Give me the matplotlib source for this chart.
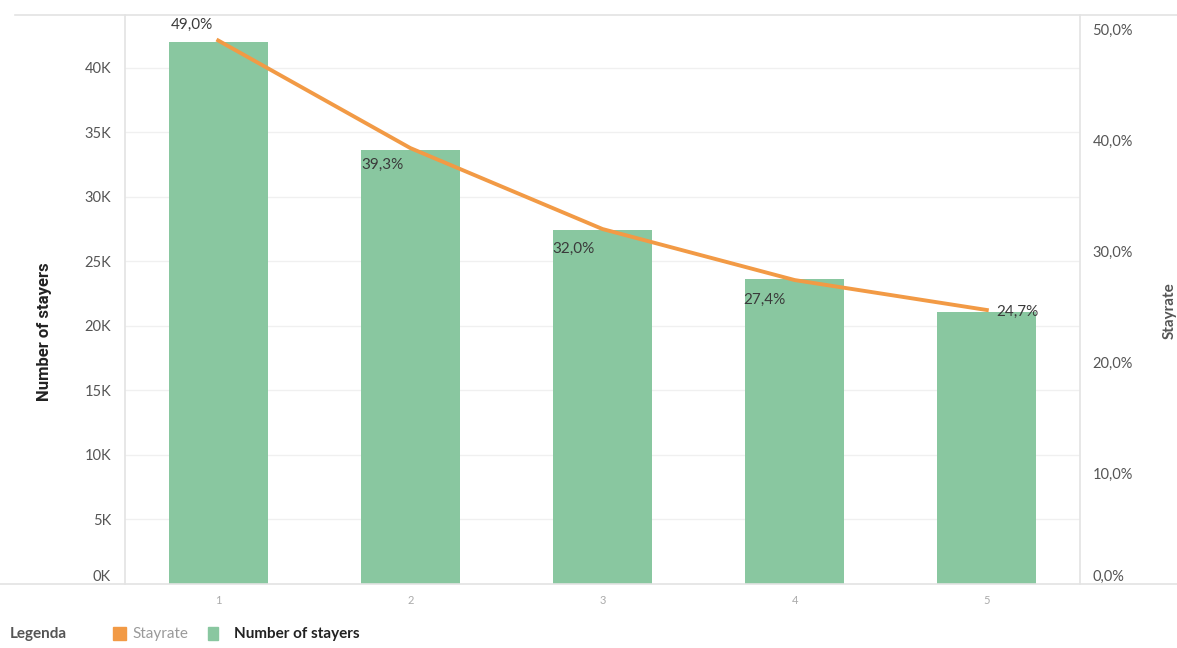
import matplotlib.pyplot as plt
from matplotlib.lines import Line2D
from matplotlib.patches import Rectangle

# --- data ---
categories = ['1', '2', '3', '4', '5']
stayers = [42000, 33600, 27400, 23600, 21100]
stayrate = [49.0, 39.3, 32.0, 27.4, 24.7]
left_ticks = [0, 5000, 10000, 15000, 20000, 25000, 30000, 35000, 40000]
right_ticks = [0, 10, 20, 30, 40, 50]

bar_color = '#89c7a0'
line_color = '#f29a45'
frame_color = '#e3e3e3'

fig = plt.figure(figsize=(11.77, 6.48), dpi=100)
ax = fig.add_axes([0.1062, 0.0988, 0.8114, 0.8781])
ax2 = ax.twinx()

x = list(range(1, len(categories) + 1))
ax.bar(x, stayers, width=0.515, color=bar_color, zorder=2)
ax.set_xlim(0.515, 5.485)
ax.set_ylim(0, 44100)
ax.set_yticks(left_ticks)
ax.set_yticklabels([f'{t // 1000}K' for t in left_ticks])
ax.grid(axis='y', color='#f0f0f0', linewidth=1, zorder=0)
ax.set_axisbelow(True)
ax.set_xticks(x)
ax.set_xticklabels(categories)

ax2.plot(x, stayrate, color=line_color, linewidth=2.8, zorder=3,
         solid_joinstyle='round')
ax2.set_ylim(0, 51.3)
ax2.set_yticks(right_ticks)
ax2.set_yticklabels([f'{t:.1f}%'.replace('.', ',') for t in right_ticks])

# data labels (offsets in points from each point)
label_offsets = [(-19, 11), (-20, -12), (-21, -14), (-22, -14), (22, -1)]
for xi, val, off in zip(x, stayrate, label_offsets):
    ax2.annotate(f'{val:.1f}%'.replace('.', ','), (xi, val), xytext=off,
                 textcoords='offset points', ha='center', va='center',
                 fontsize=11, color='#3a3a3a', family='Lato', zorder=4)

for a in (ax, ax2):
    for s in a.spines.values():
        s.set_visible(False)
    a.tick_params(length=0)

ax.tick_params(axis='y', labelsize=10.5, labelcolor='#555555', pad=10)
ax.tick_params(axis='x', labelsize=8, labelcolor='#aaaaaa', pad=8)
ax2.tick_params(axis='y', labelsize=10.5, labelcolor='#555555', pad=9)
for t in ax.get_yticklabels() + ax2.get_yticklabels() + ax.get_xticklabels():
    t.set_family('Lato')
# the zero labels sit above the baseline
ax.get_yticklabels()[0].set_va('bottom')
ax2.get_yticklabels()[0].set_va('bottom')

ax.set_ylabel('Number of stayers', fontsize=12, fontweight='bold', color='#222222',
              family='Roboto', va='center')
ax.yaxis.set_label_coords(-0.084, 0.443)
ax2.set_ylabel('Stayrate', fontsize=11, fontweight='bold', color='#555555',
               family='Lato', va='center', rotation=90)
ax2.yaxis.set_label_coords(1.094, 0.48)

# frame lines
fig.add_artist(Line2D([15 / 1177, 1.0], [1 - 15 / 648] * 2, color=frame_color, lw=1.2))
fig.add_artist(Line2D([0.0, 1.0], [1 - 584 / 648] * 2, color=frame_color, lw=1.2))
fig.add_artist(Line2D([125 / 1177] * 2, [1 - 15 / 648, 1 - 584 / 648], color=frame_color, lw=1.2))
fig.add_artist(Line2D([1080 / 1177] * 2, [1 - 15 / 648, 1 - 584 / 648], color=frame_color, lw=1.2))

# legend
ly = 1 - 634 / 648
fig.text(10 / 1177, ly, 'Legenda', fontsize=11, fontweight='bold', color='#555555',
         family='Lato', va='center')
fig.add_artist(Rectangle((113 / 1177, ly - 6 / 648), 13 / 1177, 13 / 648,
                         color=line_color, transform=fig.transFigure))
fig.text(132 / 1177, ly, 'Stayrate', fontsize=11, color='#9a9a9a', family='Lato', va='center')
fig.add_artist(Rectangle((208 / 1177, ly - 6 / 648), 10 / 1177, 13 / 648,
                         color=bar_color, transform=fig.transFigure))
fig.text(234 / 1177, ly, 'Number of stayers', fontsize=11, fontweight='bold',
         color='#222222', family='Lato', va='center')

fig.savefig('out.png', dpi=100)
